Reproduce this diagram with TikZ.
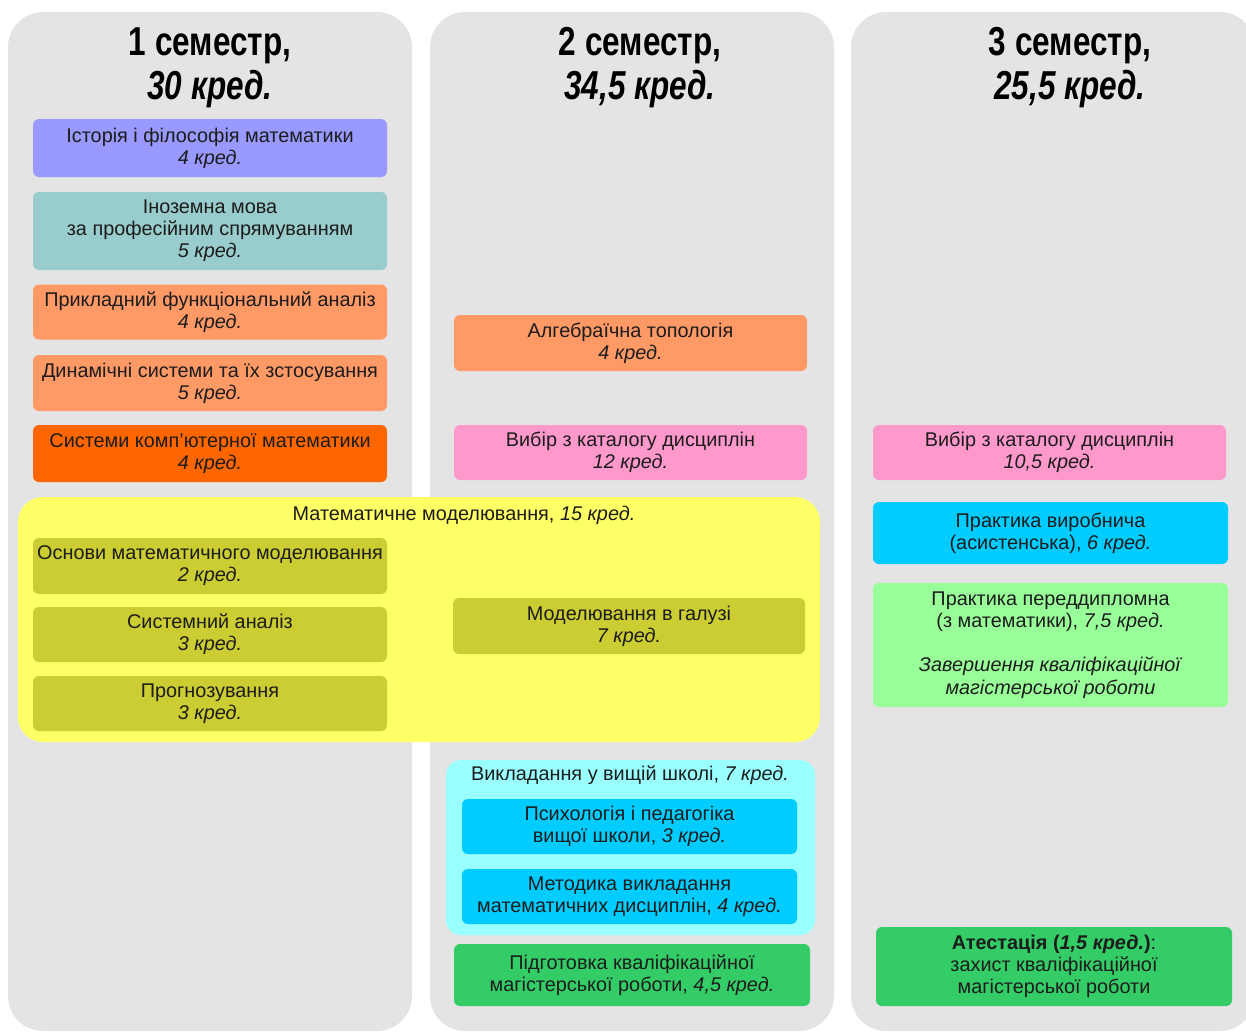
\documentclass[tikz,border=0pt]{standalone}
\usepackage{fontspec}
\setmainfont{Liberation Sans}
\newfontfamily\headfont[FakeStretch=0.78]{Liberation Sans}
\definecolor{colgrey}{HTML}{E4E4E4}
\definecolor{textdark}{HTML}{1C1C1C}
\definecolor{violetc}{HTML}{9999FF}
\definecolor{tealc}{HTML}{99CCCC}
\definecolor{peachc}{HTML}{FF9966}
\definecolor{orangec}{HTML}{FF6600}
\definecolor{pinkc}{HTML}{FF99CC}
\definecolor{yellowc}{HTML}{FFFF66}
\definecolor{olivec}{HTML}{CCCC33}
\definecolor{lightcyanc}{HTML}{99FFFF}
\definecolor{cyanc}{HTML}{00CCFF}
\definecolor{lightgreenc}{HTML}{99FF99}
\definecolor{greenc}{HTML}{33CC66}

\begin{document}
\begin{tikzpicture}[x=0.02cm,y=-0.02cm,font=\fontsize{11.3}{12.6}\selectfont]
		\tikzset{course/.style 2 args={rounded corners=0.12cm,minimum width=#1*0.02cm,minimum height=#2*0.02cm,align=center,inner sep=0pt,text=textdark}} %subject boxes
		\tikzset{group/.style 2 args={rounded corners=0.5cm,minimum width=#1*0.02cm,minimum height=#2*0.02cm,inner sep=0pt}} %blocks of subjects
		\tikzset{semhead/.style={align=center,text=black,font=\headfont\bfseries\fontsize{23}{25}\selectfont}}
		\useasboundingbox (0,0) rectangle (1246,1032);
		\fill[colgrey,rounded corners=0.7cm] (8,12) rectangle (412,1031); %semester columns
		\fill[colgrey,rounded corners=0.7cm] (430,12) rectangle (834,1031);
		\fill[colgrey,rounded corners=0.7cm] (851,12) rectangle (1255,1031);
		\node[semhead] (sem1) at (210,68) {1 семестр,\\\textit{30 кред.}};
		\node[semhead] (sem2) at (640,68) {2 семестр,\\\textit{34,5 кред.}};
		\node[semhead] (sem3) at (1070,68) {3 семестр,\\\textit{25,5 кред.}};
		% first semester
		\node[course={354}{58},fill=violetc] (hist) at (210,148) {Історія і філософія математики\\\textit{4 кред.}};
		\node[course={354}{78},fill=tealc] (lang) at (210,231) {Іноземна мова\\за професійним спрямуванням\\\textit{5 кред.}};
		\node[course={354}{55},fill=peachc] (func) at (210,312) {Прикладний функціональний аналіз\\\textit{4 кред.}};
		\node[course={354}{56},fill=peachc] (dyn) at (210,383) {Динамічні системи та їх зстосування\\\textit{5 кред.}};
		\node[course={354}{57},fill=orangec] (cas) at (210,453.5) {Системи комп’ютерної математики\\\textit{4 кред.}};
		% modelling block
		\node[group={802}{245},fill=yellowc] (mm) at (419,619.5) {};
		\node[text=textdark] (mmtitle) at (464,515) {Математичне моделювання, \textit{15 кред.}};
		\node[course={354}{56},fill=olivec] (basics) at (210,566) {Основи математичного моделювання\\\textit{2 кред.}};
		\node[course={354}{55},fill=olivec] (sysan) at (210,634.5) {Системний аналіз\\\textit{3 кред.}};
		\node[course={354}{55},fill=olivec] (prog) at (210,703.5) {Прогнозування\\\textit{3 кред.}};
		\node[course={352}{56},fill=olivec] (field) at (629,626) {Моделювання в галузі\\\textit{7 кред.}};
		% second semester
		\node[course={353}{56},fill=peachc] (topo) at (630.5,343) {Алгебраїчна топологія\\\textit{4 кред.}};
		\node[course={353}{55},fill=pinkc] (elect2) at (630.5,452.5) {Вибір з каталогу дисциплін\\\textit{12 кред.}};
		\node[group={369}{175},fill=lightcyanc,rounded corners=0.3cm] (teach) at (630.5,847.5) {};
		\node[text=textdark] (teachtitle) at (630,775) {Викладання у вищій школі, \textit{7 кред.}};
		\node[course={335}{55},fill=cyanc] (psych) at (629.5,826.5) {Психологія і педагогіка\\вищої школи, \textit{3 кред.}};
		\node[course={335}{55},fill=cyanc] (method) at (629.5,896.5) {Методика викладання\\математичних дисциплін, \textit{4 кред.}};
		\node[course={356}{62},fill=greenc] (thesis) at (632,975) {Підготовка кваліфікаційної\\магістерської роботи, \textit{4,5 кред.}};
		% third semester
		\node[course={353}{55},fill=pinkc] (elect3) at (1049.5,452.5) {Вибір з каталогу дисциплін\\\textit{10,5 кред.}};
		\node[course={355}{62},fill=cyanc] (prac1) at (1050.5,533) {Практика виробнича\\(асистенська), \textit{6 кред.}};
		\node[course={355}{124},fill=lightgreenc] (prac2) at (1050.5,645) {Практика переддипломна\\(з математики), \textit{7,5 кред.}\\[12.6pt]\textit{Завершення кваліфікаційної}\\\textit{магістерської роботи}};
		\node[course={356}{79},fill=greenc] (exam) at (1054,966.5) {\textbf{Атестація (\textit{1,5 кред.})}:\\захист кваліфікаційної\\магістерської роботи};
	\end{tikzpicture}
\end{document}
